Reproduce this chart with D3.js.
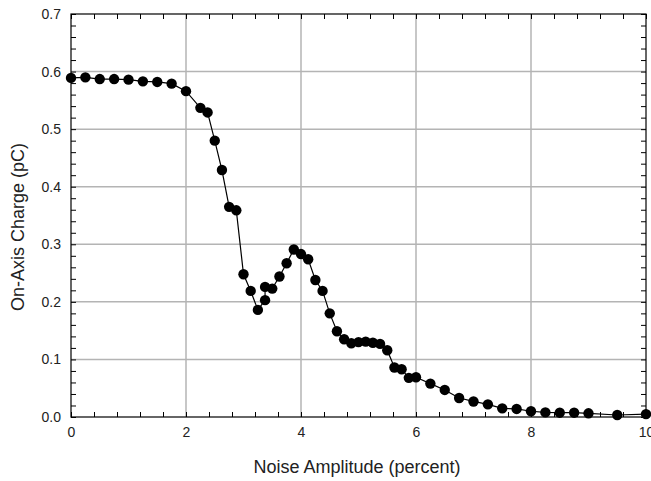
<!DOCTYPE html>
<html>
<head>
<meta charset="utf-8">
<script src="https://cdn.jsdelivr.net/npm/d3@7"></script>
<style>
  html, body { margin: 0; padding: 0; background: #fff; }
  svg { display: block; font-family: "Liberation Sans", Arial, sans-serif; }
</style>
</head>
<body>
<svg id="chart" width="651" height="481"></svg>
<script>
// Noise amplitude (percent) for each simulation run
const noiseAmplitude = [
  0, 0.25, 0.5, 0.75, 1.0, 1.25, 1.5, 1.75, 2.0, 2.25, 2.375, 2.5, 2.625, 2.75, 2.875,
  3.0, 3.125, 3.25, 3.375, 3.375, 3.5, 3.625, 3.75, 3.875, 4.0, 4.125, 4.25, 4.375, 4.5,
  4.625, 4.75, 4.875, 5.0, 5.125, 5.25, 5.375, 5.5, 5.625, 5.75, 5.875, 6.0, 6.25, 6.5,
  6.75, 7.0, 7.25, 7.5, 7.75, 8.0, 8.25, 8.5, 8.75, 9.0, 9.5, 10.0
];
// On-axis charge (pC)
const onAxisCharge = [
  0.589, 0.590, 0.587, 0.587, 0.586, 0.583, 0.582, 0.579, 0.566, 0.537, 0.529, 0.480, 0.429, 0.365, 0.359,
  0.248, 0.219, 0.186, 0.203, 0.226, 0.223, 0.244, 0.267, 0.291, 0.283, 0.274, 0.238, 0.219, 0.180,
  0.149, 0.135, 0.128, 0.130, 0.131, 0.129, 0.127, 0.116, 0.086, 0.083, 0.068, 0.069, 0.058, 0.047,
  0.033, 0.027, 0.022, 0.015, 0.014, 0.010, 0.008, 0.0075, 0.0075, 0.0064, 0.0035, 0.005
];
const xTicks = [0, 2, 4, 6, 8, 10];
const yTicks = [0.0, 0.1, 0.2, 0.3, 0.4, 0.5, 0.6, 0.7];

const svg = d3.select("#chart");
const plotLeft = 71, plotRight = 646, plotTop = 14, plotBottom = 417;

const x = d3.scaleLinear().domain([0, 10]).range([plotLeft, plotRight]);
const y = d3.scaleLinear().domain([0, 0.7]).range([plotBottom, plotTop]);

const gridColor = "#b4b4b4";

// grid lines
svg.append("g").selectAll("line").data(xTicks.filter(d => d > 0 && d < 10)).join("line")
  .attr("x1", d => x(d)).attr("x2", d => x(d))
  .attr("y1", plotTop).attr("y2", plotBottom)
  .attr("stroke", gridColor).attr("stroke-width", 1.5);
svg.append("g").selectAll("line").data(yTicks.filter(d => d > 0 && d < 0.7)).join("line")
  .attr("x1", plotLeft).attr("x2", plotRight)
  .attr("y1", d => y(d)).attr("y2", d => y(d))
  .attr("stroke", gridColor).attr("stroke-width", 1.5);

// axes with inward ticks on all four sides
const xMinor = d3.range(0, 10.001, 0.4);
const yMinor = d3.range(0, 0.7001, 0.02);

function addAxis(axis, transform) {
  const g = svg.append("g").attr("transform", transform).call(axis);
  g.select(".domain").remove();
  g.selectAll("line").attr("stroke", "#000").attr("stroke-width", 1);
  g.selectAll("text").attr("font-size", 14).attr("fill", "#222")
    .attr("font-family", "'Liberation Sans', Arial, sans-serif");
  return g;
}

addAxis(d3.axisBottom(x).tickValues(xMinor).tickSize(-5).tickFormat(""), `translate(0,${plotBottom})`);
addAxis(d3.axisTop(x).tickValues(xMinor).tickSize(-5).tickFormat(""), `translate(0,${plotTop})`);
addAxis(d3.axisLeft(y).tickValues(yMinor).tickSize(-5).tickFormat(""), `translate(${plotLeft},0)`);
addAxis(d3.axisRight(y).tickValues(yMinor).tickSize(-5).tickFormat(""), `translate(${plotRight},0)`);

addAxis(d3.axisBottom(x).tickValues(xTicks).tickSize(0).tickPadding(10).tickFormat(d3.format("d")),
  `translate(0,${plotBottom})`);
addAxis(d3.axisLeft(y).tickValues(yTicks).tickSize(0).tickPadding(10).tickFormat(d3.format(".1f")),
  `translate(${plotLeft},0)`);

// frame
svg.append("rect")
  .attr("x", plotLeft).attr("y", plotTop)
  .attr("width", plotRight - plotLeft).attr("height", plotBottom - plotTop)
  .attr("fill", "none").attr("stroke", "#000").attr("stroke-width", 1.2);

// data line and markers
const pts = noiseAmplitude.map((d, i) => [d, onAxisCharge[i]]);
svg.append("path")
  .datum(pts)
  .attr("fill", "none").attr("stroke", "#000").attr("stroke-width", 1.2)
  .attr("d", d3.line().x(d => x(d[0])).y(d => y(d[1])));

svg.append("g").selectAll("circle").data(pts).join("circle")
  .attr("cx", d => x(d[0])).attr("cy", d => y(d[1]))
  .attr("r", 5.2).attr("fill", "#000");

// axis titles
svg.append("text")
  .attr("x", 357).attr("y", 473)
  .attr("text-anchor", "middle").attr("font-size", 18).attr("fill", "#222")
  .text("Noise Amplitude (percent)");
svg.append("text")
  .attr("transform", `translate(24,227) rotate(-90)`)
  .attr("text-anchor", "middle").attr("font-size", 18).attr("fill", "#222")
  .text("On-Axis Charge (pC)");
</script>
</body>
</html>
